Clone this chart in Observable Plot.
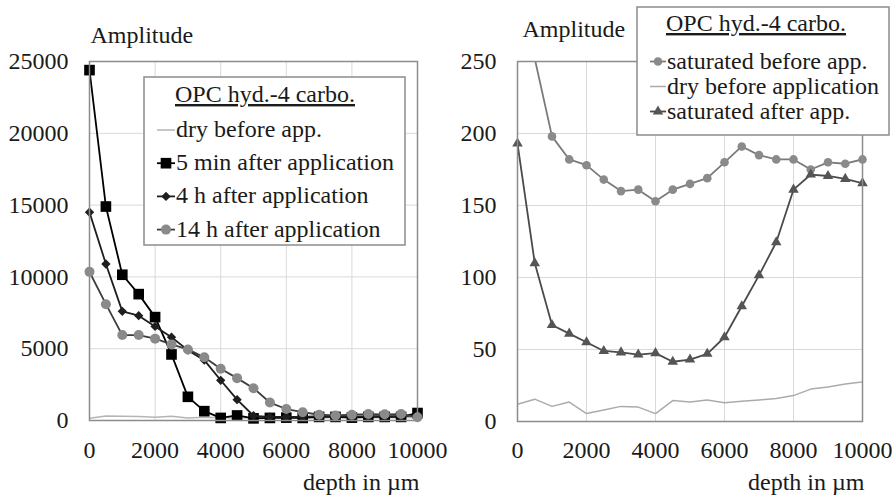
<!DOCTYPE html>
<html>
<head>
<meta charset="utf-8">
<script src="https://cdn.jsdelivr.net/npm/d3@7"></script>
<script src="https://cdn.jsdelivr.net/npm/@observablehq/plot@0.6"></script>
<style>
  html, body { margin: 0; padding: 0; background: #fff; }
  #root { position: relative; width: 896px; height: 495px; overflow: hidden; font-family: "Liberation Serif", "DejaVu Serif", serif; }
  .panel { position: absolute; top: 0; }
  #overlay { position: absolute; left: 0; top: 0; }
  svg text { font-family: "Liberation Serif", "DejaVu Serif", serif; }
</style>
</head>
<body>
<div id="root"></div>
<script>
// ---------- data ----------
const depth = [0,500,1000,1500,2000,2500,3000,3500,4000,4500,5000,5500,6000,6500,7000,7500,8000,8500,9000,9500,10000];
const xTicks = [0,2000,4000,6000,8000,10000];
const leftYTicks = [0,5000,10000,15000,20000,25000];
const rightYTicks = [0,50,100,150,200,250];

const legendTitle = "OPC hyd.-4 carbo.";
const leftNames = ["dry before app.", "5 min after application", "4 h after application", "14 h after application"];
const rightNames = ["saturated before app.", "dry before application", "saturated after app."];
const yLabel = "Amplitude";
const xLabel = "depth in µm";

// left panel series
const leftDry  = [150,320,300,280,220,300,180,230,200,180,190,200,190,200,190,210,200,190,200,200,210];
const left5min = [24400,14900,10150,8800,7200,4600,1650,650,180,350,150,180,200,180,250,250,200,250,250,250,520];
const left4h   = [14500,10900,7600,7300,6550,5800,4900,4200,2800,1450,330,250,250,250,300,300,250,300,300,300,350];
const left14h  = [10350,8100,5950,5950,5700,5300,4950,4400,3600,2950,2250,1250,800,580,400,350,400,450,430,450,230];

// right panel series
const rightSatBefore = [320,252,198,182,178,168,160,161,153,161,165,169,180,191,185,182,182,175,180,179,182];
const rightDry       = [12,15.5,10.5,13.5,5.5,8,10.5,10,5.5,14.5,13.5,15,13,14,15,16,18,22.5,24,26,27.5];
const rightSatAfter  = [193,110,67,61,55,49,48,46.5,47.5,41.5,43,47,58.5,80,101.5,124.5,161,171.5,170.5,168.5,165.5];

// ---------- helpers ----------
const rows = arr => depth.map((d, i) => ({depth: d, value: arr[i]}));
const TXT = "#1a1a1a";
const FONT = '"Liberation Serif", "DejaVu Serif", serif';

function panel(opts) {
  const {yDomain, yTicks, marginLeft, marginRight, marginBottom, series, labelDy, xlabDy, xpad} = opts;
  const marks = [
    Plot.gridX(xTicks, {stroke: "#d9d9d9", strokeOpacity: 1, strokeWidth: 1}),
    Plot.gridY(yTicks, {stroke: "#d9d9d9", strokeOpacity: 1, strokeWidth: 1}),
    Plot.axisX(xTicks, {tickSize: 0, tickPadding: xpad, label: null, tickFormat: d => String(d), fill: TXT, fontSize: 24}),
    Plot.axisY(yTicks, {tickSize: 0, tickPadding: 21, label: null, tickFormat: d => String(d), fill: TXT, fontSize: 24}),
  ];
  for (const s of series) {
    marks.push(Plot.line(rows(s.data), {x: "depth", y: "value", stroke: s.line, strokeWidth: s.width, clip: "frame"}));
    if (s.symbol) {
      marks.push(Plot.dot(rows(s.data).filter(d => d.value <= yDomain[1]), {
        x: "depth", y: "value", symbol: s.symbol, r: s.r, fill: s.fill, stroke: "none"
      }));
    }
  }
  marks.push(Plot.frame({stroke: "#8c8c8c", strokeWidth: 1.5}));
  marks.push(Plot.text([yLabel], {frameAnchor: "top-left", dx: opts.labelDx, dy: labelDy, textAnchor: "start", lineAnchor: "middle", fill: TXT, fontSize: 24}));
  marks.push(Plot.text([xLabel], {frameAnchor: "bottom-right", dx: 2, dy: xlabDy, textAnchor: "end", lineAnchor: "middle", fill: TXT, fontSize: 24}));
  return Plot.plot({
    width: 448, height: 495,
    marginLeft, marginRight, marginTop: 61, marginBottom,
    style: {fontFamily: FONT, fontSize: "24px", color: TXT, background: "transparent", overflow: "visible"},
    x: {domain: [0, 10000]},
    y: {domain: yDomain},
    marks
  });
}

const leftSeries = [
  {data: leftDry,  line: "#b5b5b5", width: 1.5},
  {data: left5min, line: "#000000", width: 1.8, symbol: "square", r: 6, fill: "#000"},
  {data: left4h,   line: "#1e1e1e", width: 1.8, symbol: "diamond2", r: 4.2, fill: "#1e1e1e"},
  {data: left14h,  line: "#3c3c3c", width: 1.8, symbol: "circle", r: 5, fill: "#8a8a8a"}
];
const rightSeries = [
  {data: rightSatBefore, line: "#7a7a7a", width: 1.8, symbol: "circle", r: 4.3, fill: "#8a8a8a"},
  {data: rightDry,       line: "#ababab", width: 1.5},
  {data: rightSatAfter,  line: "#4a4a4a", width: 1.8, symbol: "triangle", r: 3.9, fill: "#555"}
];

const leftPlot = panel({yDomain: [0, 25000], yTicks: leftYTicks, marginLeft: 89, marginRight: 31, marginBottom: 75,
  series: leftSeries, labelDx: 1, labelDy: -26, xlabDy: 62, xpad: 20});
const rightPlot = panel({yDomain: [0, 250], yTicks: rightYTicks, marginLeft: 69, marginRight: 34, marginBottom: 74,
  series: rightSeries, labelDx: 5, labelDy: -32, xlabDy: 61, xpad: 19});

const root = document.getElementById("root");
const w1 = document.createElement("div"); w1.className = "panel"; w1.style.left = "0px"; w1.appendChild(leftPlot); root.appendChild(w1);
const w2 = document.createElement("div"); w2.className = "panel"; w2.style.left = "448px"; w2.appendChild(rightPlot); root.appendChild(w2);

// ---------- legends ----------
const svg = d3.select(root).append("svg").attr("id", "overlay").attr("width", 896).attr("height", 495)
  .style("font-family", FONT).style("font-size", "24px");

function legend(g, box, titleX, titleY, lineX0, lineX1, firstY, step, entries) {
  g.append("rect").attr("x", box[0]).attr("y", box[1]).attr("width", box[2]).attr("height", box[3])
    .attr("fill", "#fff").attr("stroke", "#8c8c8c").attr("stroke-width", 1.5);
  g.append("text").attr("x", titleX).attr("y", titleY).attr("text-anchor", "middle").attr("fill", TXT)
    .attr("text-decoration", "underline").text(legendTitle);
  entries.forEach((e, i) => {
    const y = firstY + i * step;
    const cy = y - 7;
    g.append("line").attr("x1", lineX0).attr("x2", lineX1).attr("y1", cy).attr("y2", cy)
      .attr("stroke", e.line).attr("stroke-width", e.width);
    if (e.symbol) {
      g.append("path").attr("transform", `translate(${(lineX0 + lineX1) / 2},${cy})`)
        .attr("d", d3.symbol(e.symbol, Math.PI * e.r * e.r)()).attr("fill", e.fill);
    }
    g.append("text").attr("x", lineX1 + 1).attr("y", y).attr("fill", TXT).text(e.name);
  });
}
const sym = {square: d3.symbolSquare, diamond2: d3.symbolDiamond2, circle: d3.symbolCircle, triangle: d3.symbolTriangle};
legend(svg.append("g"), [144, 77, 261, 168], 265, 102, 157, 175, 137, 33.2,
  leftSeries.map((s, i) => ({...s, name: leftNames[i], symbol: s.symbol ? sym[s.symbol] : null})));
legend(svg.append("g"), [637, 7, 252, 128], 756, 31, 650, 666, 68.5, 25,
  rightSeries.map((s, i) => ({...s, name: rightNames[i], symbol: s.symbol ? sym[s.symbol] : null})));
</script>
</body>
</html>
